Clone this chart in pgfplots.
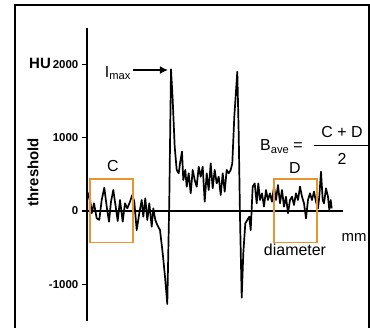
\documentclass[border=0pt]{standalone}
\usepackage{pgfplots}
\pgfplotsset{compat=1.18}
\usepackage{fontspec}
\setmainfont{Liberation Sans}
\usetikzlibrary{arrows.meta}
\definecolor{boxor}{RGB}{232,148,48}
\begin{document}
\begin{tikzpicture}
\useasboundingbox (0bp,0bp) rectangle (370bp,328bp);
\begin{scope}
\clip (0bp,0bp) rectangle (370bp,328bp);
\draw[line width=1.6bp] (15bp,-20bp) rectangle (369bp,323bp);
\end{scope}
\begin{axis}[at={(87bp,7bp)}, anchor=south west, scale only axis,
  width=256bp, height=293.3bp, xmin=0, xmax=256, ymin=-1500, ymax=2500,
  axis lines=middle, axis line style={-, line width=1.4bp},
  xtick=\empty, ytick={-1000,0,1000,2000}, yticklabels={-1000,0,1000,2000},
  yticklabel style={font=\bfseries\fontsize{11.5}{12}\selectfont, inner sep=0pt, xshift=-3.5bp},
  tick align=outside, major tick length=5bp, tick style={line width=1.2bp, black},
  hide obscured y ticks=false, hide obscured x ticks=false, clip=false]
\addplot[black, line width=1.7bp, line join=round] coordinates {
(0,-150) (0.3,150) (2.3,250) (4.7,-30) (7,105) (9.7,-100) (12.3,-120) (14.7,150) (17.3,318) (19.7,60) (22,-145) (24,127) (26.3,286) (28.7,60) (30.7,-136) (33,150) (35.7,-145) (38,105) (40.3,36) (43,127) (45.3,218) (47.3,127) (49.7,-260) (52.3,-30) (54.7,150) (56.3,-77) (58.3,173) (60.3,-123) (62.3,105) (64.7,-214) (66.3,36) (68.3,-123) (70.3,-190) (73,-260) (75.7,-577) (78,-895) (80.3,-1268) (82.3,150) (84,1932) (85.7,1514) (87.7,877) (89.7,560) (91.7,514) (93,650) (95,810) (96.3,423) (98.3,560) (99.7,332) (101.7,514) (103.7,241) (105.7,560) (107.7,423) (109.7,332) (111.7,605) (113.7,468) (115.7,605) (117.7,127) (119.7,514) (121.7,286) (123.7,650) (125.7,309) (127.7,560) (129.7,377) (131.7,468) (133.7,218) (135.7,514) (137.7,264) (139.7,560) (141.7,514) (143.7,560) (145.3,650) (147.3,1286) (150.3,1900) (151.7,1059) (153,-77) (154.7,-1182) (156.3,-577) (158.3,-168) (160.3,-123) (162.3,-77) (163.7,-260) (165.7,332) (167.7,377) (169.7,105) (171.3,377) (173,150) (175,241) (177,60) (179,286) (181,150) (183,241) (185,127) (187,332) (189,150) (191,355) (193,105) (195,286) (197,60) (199,195) (201,-30) (203,150) (205,195) (207,82) (209,241) (211,150) (213,332) (215,195) (217,105) (219,-100) (221,150) (223,241) (225,150) (227,264) (229,127) (231,36) (232.3,195) (234,536) (235.7,150) (237,105) (239,309) (241,195) (242.3,14) (243.7,150) (244.7,36)
};
\draw[boxor, line width=1.7bp] (axis cs:3,-430) rectangle (axis cs:46.3,432);
\draw[boxor, line width=1.7bp] (axis cs:187,-430) rectangle (axis cs:229.7,432);
\node[font=\fontsize{16}{16}\selectfont] at (axis cs:26,620) {C};
\node[font=\fontsize{16}{16}\selectfont] at (axis cs:208,580) {D};
\node[font=\fontsize{16}{16}\selectfont] at (axis cs:208,-530) {diameter};
\node[font=\fontsize{15}{15}\selectfont] at (axis cs:267,-360) {mm};
\node[font=\bfseries\fontsize{15}{15}\selectfont, anchor=east, inner sep=0pt] at (axis cs:-36,2010) {HU};
\node[font=\bfseries\fontsize{15}{15}\selectfont, rotate=90] at (axis cs:-54,530) {threshold};
\node[font=\fontsize{16}{16}\selectfont] at (axis cs:31,1880) {I\textsubscript{max}};
\draw[line width=2bp, -{Latex[length=8bp,width=8bp]}] (axis cs:46,1923) -- (axis cs:81,1923);
\node[font=\fontsize{16}{16}\selectfont, anchor=base west, inner sep=0pt] at (axis cs:173,820) {B\textsubscript{ave}\hspace{4bp}=};
\draw[line width=0.9bp] (axis cs:227,900) -- (axis cs:285,900);
\node[font=\fontsize{16}{16}\selectfont] at (axis cs:255,1075) {C + D};
\node[font=\fontsize{16}{16}\selectfont] at (axis cs:255,715) {2};
\end{axis}
\end{tikzpicture}
\end{document}
